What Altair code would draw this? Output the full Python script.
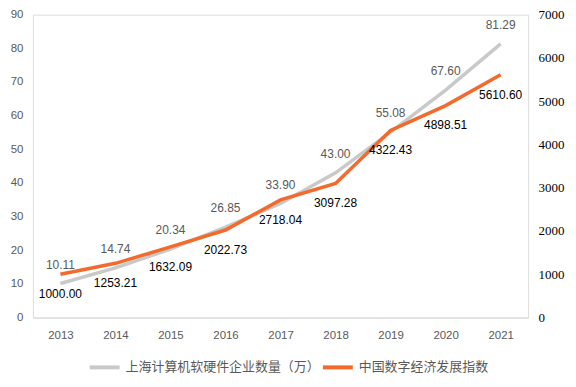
import altair as alt
import pandas as pd

years = ["2013", "2014", "2015", "2016", "2017", "2018", "2019", "2020", "2021"]
companies = [10.11, 14.74, 20.34, 26.85, 33.90, 43.00, 55.08, 67.60, 81.29]
index_vals = [1000.00, 1253.21, 1632.09, 2022.73, 2718.04, 3097.28, 4322.43, 4898.51, 5610.60]
name_a = "上海计算机软硬件企业数量（万）"
name_b = "中国数字经济发展指数"

df_a = pd.DataFrame({"year": years, "value": companies, "series": name_a,
                     "label": [f"{v:.2f}" for v in companies]})
df_b = pd.DataFrame({"year": years, "value": index_vals, "series": name_b,
                     "label": [f"{v:.2f}" for v in index_vals]})

GRAY = "#c9c9c9"
ORANGE = "#f4692c"
TXT = "#595959"
SANS = "Liberation Sans"
CJK = "Noto Sans CJK SC"

x_enc = alt.X("year:O", sort=years, title=None,
              scale=alt.Scale(type="point", padding=0.5),
              axis=alt.Axis(labelAngle=0, ticks=False, domainColor="#d9d9d9",
                            domainWidth=1, labelColor=TXT, labelFont=SANS,
                            labelFontSize=11.5, labelPadding=12, grid=False))

y_left = alt.Y("value:Q", title=None,
               scale=alt.Scale(domain=[0, 90]),
               axis=alt.Axis(orient="left", values=list(range(0, 91, 10)), grid=False,
                             domain=False, ticks=False, labelColor=TXT, labelFont=SANS,
                             labelFontSize=11.5, labelPadding=10, format="d"))
y_right = alt.Y("value:Q", title=None,
                scale=alt.Scale(domain=[0, 7000]),
                axis=alt.Axis(orient="right", values=list(range(0, 7001, 1000)), grid=False,
                              domain=False, ticks=False, labelColor="#000000",
                              labelFont="Liberation Serif", labelFontSize=13,
                              labelPadding=10, format="d"))

color = alt.Color("series:N", title=None,
                  scale=alt.Scale(domain=[name_a, name_b], range=[GRAY, ORANGE]),
                  legend=alt.Legend(orient="none", legendX=55, legendY=337,
                                    direction="horizontal", symbolType="stroke",
                                    symbolSize=900, symbolStrokeWidth=4,
                                    labelFont=CJK, labelFontSize=13, labelColor=TXT,
                                    labelLimit=0, labelOffset=4, columnPadding=-10))

line_a = alt.Chart(df_a).mark_line(strokeWidth=3.5).encode(x=x_enc, y=y_left, color=color)
text_a = alt.Chart(df_a).mark_text(dy=-19, font=SANS, fontSize=12, color=TXT).encode(
    x=x_enc, y=y_left, text="label:N")
line_b = alt.Chart(df_b).mark_line(strokeWidth=3.5).encode(x=x_enc, y=y_right, color=color)
text_b = alt.Chart(df_b).mark_text(dy=20, font=SANS, fontSize=12, color="#000000").encode(
    x=x_enc, y=y_right, text="label:N")

chart = alt.layer(
    alt.layer(line_a, text_a),
    alt.layer(line_b, text_b),
).resolve_scale(y="independent").properties(
    width=497, height=304,
    autosize=alt.AutoSizeParams(type="none"),
    padding={"left": 25, "top": 6, "right": 40, "bottom": 64},
).configure_view(stroke=None).configure(background="white")

chart.save("out.html", embed_options={"renderer": "svg", "actions": False})
